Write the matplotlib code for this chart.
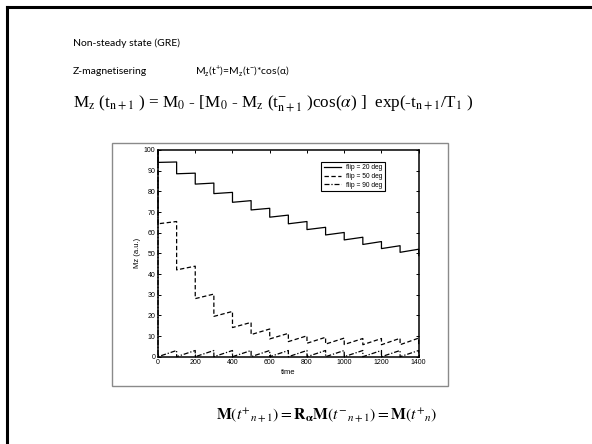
import numpy as np
import matplotlib
matplotlib.use("Agg")
import matplotlib.pyplot as plt
from matplotlib.patches import Rectangle
from matplotlib.lines import Line2D

# 数据：每个脉冲时刻前/后的纵向磁化
pulse_times = [0, 100, 200, 300, 400, 500, 600, 700, 800, 900, 1000, 1100, 1200, 1300, 1400]
mz_before_20 = [100, 94.2, 88.8, 84.0, 79.5, 75.5, 71.8, 68.5, 65.4, 62.6, 60.1, 57.8, 55.7, 53.7, 52.0]
mz_after_20 = [94.0, 88.5, 83.5, 78.9, 74.7, 71.0, 67.5, 64.3, 61.5, 58.9, 56.5, 54.3, 52.3, 50.5, 48.9]
mz_before_50 = [100, 65.4, 43.8, 30.3, 21.9, 16.6, 13.4, 11.3, 10.1, 9.4, 9.0, 8.8, 8.8, 8.9, 9.0]
mz_after_50 = [64.3, 42.0, 28.1, 19.5, 14.1, 10.7, 8.6, 7.3, 6.5, 6.1, 5.9, 5.8, 5.8, 5.8, 5.8]
mz_before_90 = [100, 3.0, 3.0, 3.0, 3.0, 3.0, 3.0, 3.0, 3.0, 3.0, 3.0, 3.0, 3.0, 3.0, 3.0]
mz_after_90 = [0, 0, 0, 0, 0, 0, 0, 0, 0, 0, 0, 0, 0, 0, 0]

series_labels = ["flip = 20 deg", "flip = 50 deg", "flip = 90 deg"]
x_ticks = [0, 200, 400, 600, 800, 1000, 1200, 1400]
y_ticks = [0, 10, 20, 30, 40, 50, 60, 70, 80, 90, 100]

plt.rcParams["mathtext.fontset"] = "stix"

W, H = 592, 444
fig = plt.figure(figsize=(W / 100, H / 100), dpi=100)


def fx(px):
    return px / W


def fy(py):
    return 1 - py / H


# 幻灯片边框
fig.add_artist(Line2D([fx(7), 1.0], [fy(7), fy(7)], color="black", lw=2.2,
                      transform=fig.transFigure))
fig.add_artist(Line2D([fx(7), fx(7)], [fy(7), 0.0], color="black", lw=2.2,
                      transform=fig.transFigure))

# 文本
sans = ["Lato", "DejaVu Sans"]
fig.text(fx(73), fy(43), "Non-steady state (GRE)", family=sans, fontsize=7.5,
         va="center", ha="left")
fig.text(fx(73), fy(72), "Z-magnetisering", family=sans, fontsize=7.5,
         va="center", ha="left")
fig.text(fx(195), fy(72),
         r"M$_\mathregular{z}$(t$^\mathregular{+}$)=M$_\mathregular{z}$(t$^\mathregular{-}$)*cos(α)",
         family=sans, fontsize=7.5, va="center", ha="left")
fig.text(fx(73), fy(104),
         r"M$_{\rm z}$ (t$_{\rm n+1}$ ) = M$_0$ - [M$_0$ - M$_{\rm z}$ (t$^{-}_{\rm n+1}$ )cos($\alpha$) ]  exp(-t$_{\rm n+1}$/T$_1$ )",
         family="Liberation Serif", fontsize=12.3, va="center", ha="left")
fig.text(fx(327), fy(415),
         r"$\mathbf{M}(t^{+}{}_{n+1})=\mathbf{R}_{\mathbf{\alpha}}\mathbf{M}(t^{-}{}_{n+1})=\mathbf{M}(t^{+}{}_{n})$",
         fontsize=11.3, va="center", ha="center")

# 图片外框
fig.add_artist(Rectangle((fx(112), fy(386)), fx(448) - fx(112), fy(143) - fy(386),
                         transform=fig.transFigure, fill=False, edgecolor="#8a8a8a", lw=1.0))

# 坐标轴
ax = fig.add_axes([fx(158), fy(356.7), fx(418.7) - fx(158), fy(150) - fy(356.7)])


def step_path(times, before, after):
    xs = np.repeat(times, 2)
    ys = np.empty(2 * len(times))
    ys[0::2] = before
    ys[1::2] = after
    return xs, ys


styles = [dict(ls="-"), dict(ls=(0, (3.5, 2))), dict(ls=(0, (4, 1.5, 1, 1.5)))]
data = [(mz_before_20, mz_after_20), (mz_before_50, mz_after_50), (mz_before_90, mz_after_90)]
for (b, a), st, lab in zip(data, styles, series_labels):
    xs, ys = step_path(pulse_times, b, a)
    ax.plot(xs, ys, color="black", lw=0.9, label=lab, clip_on=False, **st)

ax.set_xlim(0, 1400)
ax.set_ylim(0, 100)
ax.set_xticks(x_ticks)
ax.set_yticks(y_ticks)
ax.tick_params(direction="in", length=2.5, width=0.7, top=True, right=True,
               labelsize=5, pad=2)
for lbl in ax.get_xticklabels() + ax.get_yticklabels():
    lbl.set_family("Liberation Sans")
for s in ax.spines.values():
    s.set_linewidth(1.1)
ax.set_xlabel("time", family="Liberation Sans", fontsize=5.5, labelpad=1.5)
ax.set_ylabel("Mz (a.u.)", family="Liberation Sans", fontsize=5.5, labelpad=2)

leg = ax.legend(loc="upper right", bbox_to_anchor=(0.885, 0.96), prop={"family": "Liberation Sans", "size": 4.8},
                frameon=True, fancybox=False, framealpha=1, edgecolor="black",
                handlelength=2.6, borderpad=0.4, labelspacing=0.25, handletextpad=0.8)
leg.get_frame().set_linewidth(0.8)

fig.savefig("out.png", dpi=100)
